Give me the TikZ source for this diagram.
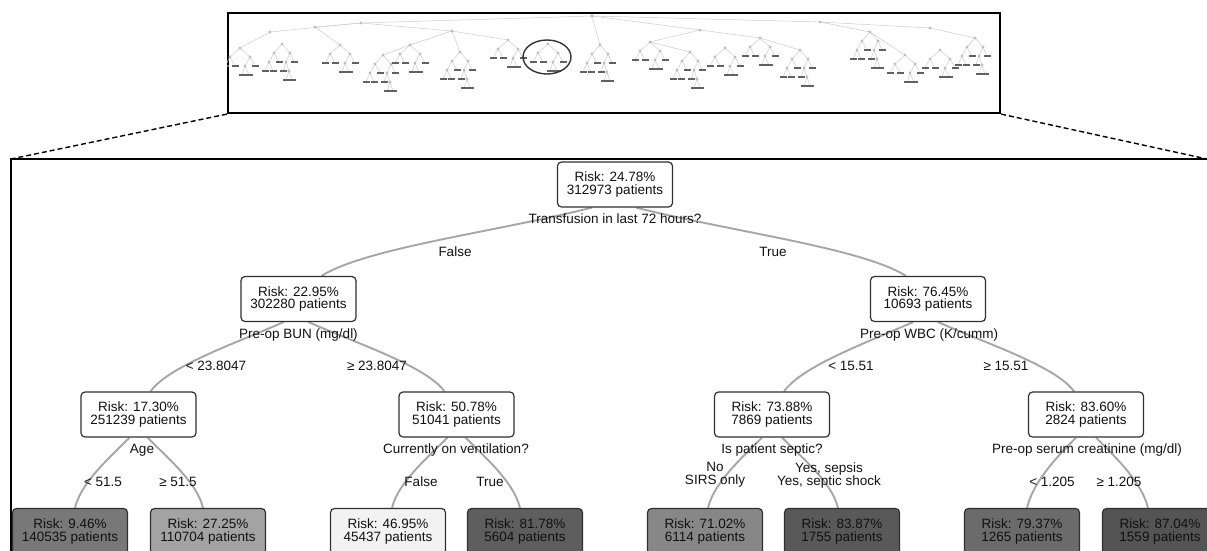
\documentclass[tikz,border=0pt]{standalone}
\usepackage{fontspec}
\setmainfont{Liberation Sans}
\usetikzlibrary{backgrounds}
\newcommand{\dtfont}{\fontsize{13.5}{13}\selectfont}
\definecolor{edgegray}{HTML}{A6A6A6}
\definecolor{boxline}{HTML}{303030}
\definecolor{txt}{HTML}{111111}
\begin{document}
\begin{tikzpicture}[x=1pt,y=-1pt,
  inode/.style={draw=boxline, line width=1.2pt, rounded corners=4pt, fill=white,
    minimum width=115pt, minimum height=45pt, align=center, inner sep=0pt,
    font=\dtfont, text=txt},
  leaf/.style={inode, fill=#1, minimum width=115pt, minimum height=46pt},
  edge/.style={draw=edgegray, line width=1.9pt},
  lab/.style={font=\dtfont, text=txt, align=center, inner sep=0pt},
  thl/.style={draw=black!20, line width=0.5pt},
  thn/.style={fill=black!25},
  thk/.style={fill=black!62},
  mt/.pic={
    \draw[thl] (0,0) -- (-10,9) (0,0) -- (10,9)
      (-10,9) -- (-15,18) (-10,9) -- (-5,18)
      (10,9) -- (5,18) (10,9) -- (15,18)
      (5,18) -- (2,27) (5,18) -- (9,27);
    \foreach \p in {(0,0),(-10,9),(10,9),(5,18)} \fill[thn] \p circle (1.6);
    \foreach \p in {(-15,18),(-5,18),(15,18),(2,27),(9,27)}
      \fill[thk] \p ++(-3.5,-1.2) rectangle ++(7,2.4);
  },
  mtb/.pic={
    \draw[thl] (0,0) -- (-8,9) (0,0) -- (8,9)
      (-8,9) -- (-13,18) (-8,9) -- (-3,18)
      (8,9) -- (4,18) (8,9) -- (12,18)
      (-13,18) -- (-17,27) (-13,18) -- (-9,27)
      (4,18) -- (1,27) (4,18) -- (7,27)
      (7,27) -- (4,36) (7,27) -- (10,36);
    \foreach \p in {(0,0),(-8,9),(8,9),(-13,18),(4,18),(7,27)} \fill[thn] \p circle (1.6);
    \foreach \p in {(-3,18),(12,18),(-17,27),(-9,27),(1,27),(4,36),(10,36)}
      \fill[thk] \p ++(-3.5,-1.2) rectangle ++(7,2.4);
  }]
\useasboundingbox (0,0) rectangle (1207,550);
\begin{scope}
\clip (0,0) rectangle (1207,550);

% ---------- thumbnail of the full tree ----------
\node[draw=black, line width=2.2pt, minimum width=772pt, minimum height=100pt, inner sep=0pt] (thumb) at (614,63) {};
\begin{scope}
\clip (thumb.south west) rectangle (thumb.north east);
\draw[thl] (592,16) -- (361,23) -- (270,32);
\draw[thl] (361,23) -- (315,27) (361,23) -- (452,31) -- (410,45) (452,31) -- (508,40);
\draw[thl] (592,16) -- (700,30) -- (650,42) (700,30) -- (760,38);
\draw[thl] (592,16) -- (820,22) -- (870,32) (820,22) -- (930,28) -- (975,38);
\draw[thl] (315,27) -- (340,45) (270,32) -- (240,48) (410,45) -- (383,55) (452,31) -- (460,52);
\draw[thl] (650,42) -- (690,52) (760,38) -- (800,50) (870,32) -- (905,55) (592,16) -- (600,45);
\fill[thn] (592,16) circle (1.8) (361,23) circle (1.6) (452,31) circle (1.6) (700,30) circle (1.6) (820,22) circle (1.6) (930,28) circle (1.6) (315,27) circle (1.6) (270,32) circle (1.6);
\pic at (240,48) {mt};
\pic at (282,44) {mtb};
\pic at (340,45) {mt};
\pic at (383,55) {mtb};
\pic at (410,45) {mt};
\pic at (460,52) {mtb};
\pic at (508,40) {mt};
\pic at (548,44) {mt};
\pic at (600,45) {mtb};
\pic at (650,42) {mt};
\pic at (690,52) {mtb};
\pic at (725,48) {mt};
\pic at (760,38) {mt};
\pic at (800,50) {mtb};
\pic at (870,32) {mtb};
\pic at (905,55) {mt};
\pic at (940,50) {mt};
\pic at (975,38) {mtb};
\end{scope}
\draw[line width=1.4pt, black!80] (547,57) ellipse (24pt and 17pt);

% ---------- zoom frame ----------
\coordinate (bigTL) at (11,159);
\coordinate (bigTR) at (1207,159);
\coordinate (bigBL) at (11,560);
\draw[line width=1.6pt] (bigBL) -- (bigTL) -- (1215,159);
\draw[line width=1.4pt, dash pattern=on 5pt off 3pt] (thumb.south west) -- (bigTL);
\draw[line width=1.4pt, dash pattern=on 5pt off 3pt] (thumb.south east) -- (bigTR);

% ---------- nodes ----------
\node[inode] (root) at (615,184.5) {Risk: 24.78\%\\312973 patients};
\node[inode] (n1) at (298.5,299) {Risk: 22.95\%\\302280 patients};
\node[inode] (n2) at (928,299) {Risk: 76.45\%\\10693 patients};
\node[inode] (n11) at (138.5,414.5) {Risk: 17.30\%\\251239 patients};
\node[inode] (n12) at (456.5,414.5) {Risk: 50.78\%\\51041 patients};
\node[inode] (n21) at (772,414.5) {Risk: 73.88\%\\7869 patients};
\node[inode] (n22) at (1086,414.5) {Risk: 83.60\%\\2824 patients};

\node[leaf=black!53] (l1) at (70,531.5) {Risk: 9.46\%\\140535 patients};
\node[leaf=black!36] (l2) at (208,531.5) {Risk: 27.25\%\\110704 patients};
\node[leaf=black!5]  (l3) at (388,531.5) {Risk: 46.95\%\\45437 patients};
\node[leaf=black!63] (l4) at (525,531.5) {Risk: 81.78\%\\5604 patients};
\node[leaf=black!47] (l5) at (705,531.5) {Risk: 71.02\%\\6114 patients};
\node[leaf=black!65] (l6) at (842,531.5) {Risk: 83.87\%\\1755 patients};
\node[leaf=black!58] (l7) at (1022,531.5) {Risk: 79.37\%\\1265 patients};
\node[leaf=black!67] (l8) at (1160,531.5) {Risk: 87.04\%\\1559 patients};

% ---------- split and branch labels ----------
\node[lab] (s0) at (615,219) {Transfusion in last 72 hours?};
\node[lab] (b0f) at (455,252) {False};
\node[lab] (b0t) at (773,252) {True};
\node[lab] (s1) at (298.5,335) {Pre-op BUN (mg/dl)};
\node[lab] (s2) at (929,335) {Pre-op WBC (K/cumm)};
\node[lab] (b1l) at (216,366) {< 23.8047};
\node[lab] (b1r) at (377,366) {≥ 23.8047};
\node[lab] (b2l) at (851,366) {< 15.51};
\node[lab] (b2r) at (1006,366) {≥ 15.51};
\node[lab] (s11) at (142,450) {Age};
\node[lab] (s12) at (456,450) {Currently on ventilation?};
\node[lab] (s21) at (772,450) {Is patient septic?};
\node[lab] (s22) at (1087,450) {Pre-op serum creatinine (mg/dl)};
\node[lab] (b11l) at (103,482) {< 51.5};
\node[lab] (b11r) at (178,482) {≥ 51.5};
\node[lab] (b12l) at (421,482) {False};
\node[lab] (b12r) at (490,482) {True};
\node[lab] (b21l) at (715,475) {No\\SIRS only};
\node[lab] (b21r) at (829,475) {Yes, sepsis\\Yes, septic shock};
\node[lab] (b22l) at (1052,482) {< 1.205};
\node[lab] (b22r) at (1119,482) {≥ 1.205};

% ---------- connectors ----------
\begin{scope}[on background layer]
\draw[edge] ([xshift=-23pt]root.south) .. controls +(-100,25) and +(45,-28) .. ([xshift=23pt]n1.north);
\draw[edge] ([xshift=21pt]root.south) .. controls +(100,25) and +(-45,-28) .. ([xshift=-22pt]n2.north);
\draw[edge] ([xshift=-15pt]n1.south) .. controls +(-50,22) and +(18,-25) .. ([xshift=12pt]n11.north);
\draw[edge] ([xshift=10pt]n1.south) .. controls +(50,22) and +(-18,-25) .. ([xshift=-12pt]n12.north);
\draw[edge] ([xshift=-15pt]n2.south) .. controls +(-50,22) and +(18,-25) .. ([xshift=12pt]n21.north);
\draw[edge] ([xshift=10pt]n2.south) .. controls +(50,22) and +(-18,-25) .. ([xshift=-12pt]n22.north);
\draw[edge] ([xshift=-9pt]n11.south) .. controls +(-22,22) and +(6,-25) .. ([xshift=5pt]l1.north);
\draw[edge] ([xshift=9pt]n11.south) .. controls +(22,22) and +(-6,-25) .. ([xshift=-5pt]l2.north);
\draw[edge] ([xshift=-9pt]n12.south) .. controls +(-22,22) and +(6,-25) .. ([xshift=4pt]l3.north);
\draw[edge] ([xshift=9pt]n12.south) .. controls +(22,22) and +(-6,-25) .. ([xshift=-5pt]l4.north);
\draw[edge] ([xshift=-10pt]n21.south) .. controls +(-22,22) and +(6,-25) .. ([xshift=3pt]l5.north);
\draw[edge] ([xshift=10pt]n21.south) .. controls +(22,22) and +(-6,-25) .. ([xshift=-4pt]l6.north);
\draw[edge] ([xshift=-10pt]n22.south) .. controls +(-22,22) and +(6,-25) .. ([xshift=5pt]l7.north);
\draw[edge] ([xshift=10pt]n22.south) .. controls +(22,22) and +(-6,-25) .. ([xshift=-12pt]l8.north);
\end{scope}
\end{scope}
\end{tikzpicture}
\end{document}
